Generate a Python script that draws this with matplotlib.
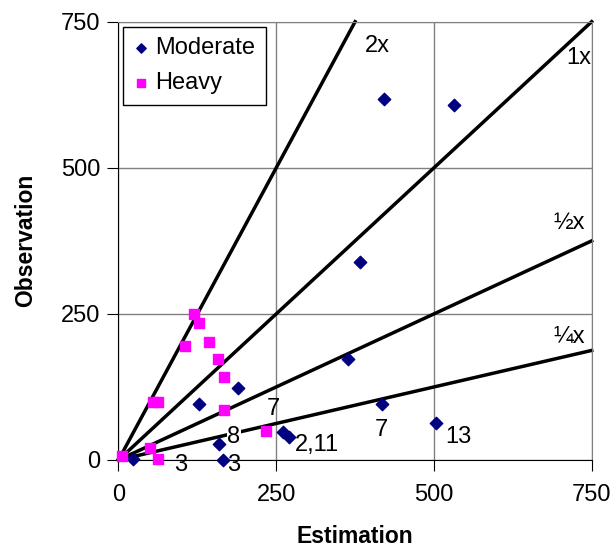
import matplotlib.pyplot as plt
import numpy as np

plt.rcParams['font.family'] = ['Liberation Sans', 'DejaVu Sans']

# Moderate traffic: estimation vs observation
moderate_est = [421, 532, 383, 363, 418, 504, 261, 270, 190, 127, 160, 165, 23]
moderate_obs = [617, 607, 339, 172, 96, 63, 48, 39, 124, 95, 27, 0, 2]

# Heavy traffic
heavy_est = [120, 128, 105, 143, 158, 168, 168, 55, 63, 50, 63, 5, 234]
heavy_obs = [250, 234, 195, 202, 172, 142, 85, 99, 99, 21, 1, 7, 50]

# reference lines y = k * x
ratios = [2, 1, 0.5, 0.25]
ratio_labels = ['2x', '1x', '\u00bdx', '\u00bcx']
ratio_label_pos = [(410, 709), (730, 688), (715, 406), (715, 211)]

# point labels (text, x, y)
point_labels = [('3', 98, -9), ('3', 183, -9), ('8', 183, 40), ('7', 246, 87),
                ('2,11', 314, 26), ('7', 416, 52), ('13', 538, 40)]

fs = 17

fig = plt.figure(figsize=(6.16, 5.51), dpi=100)
ax = fig.add_axes([118.5 / 616, 1 - 460 / 551, 473.2 / 616, 438.3 / 551])

ax.set_xlim(0, 750)
ax.set_ylim(0, 750)
ticks = [0, 250, 500, 750]
ax.set_xticks(ticks)
ax.set_yticks(ticks)
ax.grid(True, color='#808080', linewidth=1)
ax.set_axisbelow(True)

for k in ratios:
  xe = min(750, 750 / k)
  ax.plot([0, xe], [0, k * xe], color='black', linewidth=2.5, zorder=2, clip_on=False)

for lbl, pos in zip(ratio_labels, ratio_label_pos):
  ax.text(pos[0], pos[1], lbl, fontsize=fs, ha='center', va='center', zorder=3)

ax.scatter(moderate_est, moderate_obs, marker='D', s=40, color='#000080', label='Moderate', zorder=4, clip_on=False)
ax.scatter(heavy_est, heavy_obs, marker='s', s=60, color='#FF00FF', label='Heavy', zorder=4, clip_on=False)

for lbl, x, y in point_labels:
  ax.text(x, y, lbl, fontsize=fs, ha='center', va='center', zorder=3,
          bbox=dict(facecolor='white', edgecolor='none', pad=0.5) if lbl == '8' else None)

for s in ax.spines.values():
  s.set_color('#808080')
ax.spines['left'].set_color('black')
ax.spines['bottom'].set_color('black')
ax.tick_params(direction='out', length=8, labelsize=fs, pad=5)
ax.tick_params(axis='x', pad=9)

ax.set_xlabel('Estimation', fontsize=16.5, fontweight='bold', labelpad=14)
ax.set_ylabel('Observation', fontsize=16.5, fontweight='bold', labelpad=17)

leg = ax.legend(loc='upper left', bbox_to_anchor=(4.5 / 473.2, 1 - 5 / 438.3),
                borderaxespad=0, fontsize=fs, frameon=True, fancybox=False,
                edgecolor='black', framealpha=1,
                handlelength=0.6, handletextpad=0.3, markerscale=0.75,
                borderpad=0.45, labelspacing=0.55)
leg.get_frame().set_linewidth(1)

fig.savefig('out.png', dpi=100)
